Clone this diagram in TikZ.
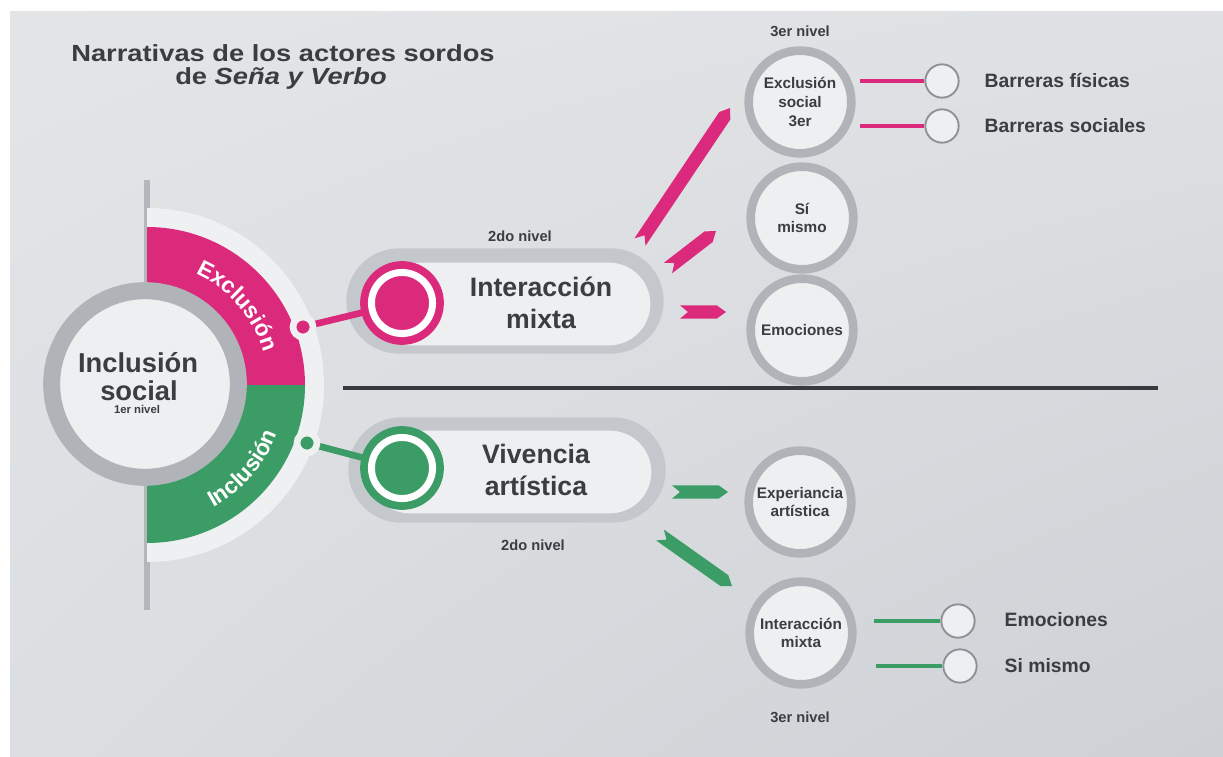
\documentclass[tikz,border=0pt]{standalone}
\usepackage{fontspec}
\setmainfont{Liberation Sans}
\usetikzlibrary{calc,shapes.misc,decorations.text,shadings}
\definecolor{pinkc}{HTML}{DB2A7B}
\definecolor{greenc}{HTML}{3C9C66}
\definecolor{inkc}{HTML}{3A3D41}
\definecolor{facec}{HTML}{EDEFF1}
\definecolor{ringc}{HTML}{B0B4B9}
\definecolor{shellc}{HTML}{C4C8CD}
\definecolor{haloc}{HTML}{EEF0F2}
\definecolor{barc}{HTML}{B3B6BB}
\definecolor{rulec}{HTML}{36393E}

\tikzset{
  lvlone/.style={circle, fill=facec, draw=ringc, line width=12.75pt, minimum size=140pt, inner sep=0pt},
  lvlonetext/.style={anchor=base, font=\fontsize{20.5}{23}\selectfont\bfseries, text=inkc, inner sep=0pt},
  lvlthree/.style={circle, fill=facec, draw=ringc, line width=6.5pt, minimum size=77pt, inner sep=0pt,
    align=center, font=\fontsize{11.5}{14}\selectfont\bfseries, text=inkc},
  leaf/.style={circle, fill=facec, draw=ringc!80!black, line width=1.4pt, minimum size=25pt, inner sep=0pt},
  leaflabel/.style={anchor=west, font=\fontsize{14.5}{17}\selectfont\bfseries, text=inkc},
  nivel/.style={font=\fontsize{11}{13}\selectfont\bfseries, text=inkc},
  titletext/.style={anchor=base, font=\fontsize{17.5}{20}\selectfont\bfseries, text=inkc, inner sep=0pt},
  hub/.style={circle, fill=#1, draw=white, line width=5.25pt, minimum size=45.8pt, inner sep=0pt,
    preaction={draw=#1, line width=17pt}},
  knob/.style={circle, fill=#1, draw=haloc, line width=5pt, minimum size=15pt, inner sep=0pt},
  link/.style={#1, line width=5pt},
  twig/.style={#1, line width=2.6pt},
  shell/.style={rounded rectangle, fill=shellc, minimum width=238pt, minimum height=79pt, inner sep=0pt},
  face/.style={rounded rectangle, fill=facec, minimum width=212pt, minimum height=62pt, inner sep=0pt},
  pilltext/.style={align=center, font=\fontsize{20}{24}\selectfont\bfseries, text=inkc},
  arctext/.style={decorate, decoration={text along path, text align=center,
    text={|\fontsize{17}{20}\selectfont\bfseries\color{white}|#1}}},
}

% tail, head, colour
\newcommand{\ribbon}[3]{%
  \coordinate (rb-s) at ($(#2)!7pt!(#1)$);
  \fill[#3] ($(#1)!5pt!90:(#2)$) -- ($(rb-s)!5pt!90:(#2)$) -- (#2)
    -- ($(rb-s)!5pt!-90:(#2)$) -- ($(#1)!5pt!-90:(#2)$) -- ($(#1)!6pt!(#2)$) -- cycle;
}

\begin{document}
\begin{tikzpicture}[x=0.75pt, y=0.75pt]
\useasboundingbox (0,0) rectangle (1223,-756);
% background
\fill[white] (0,0) rectangle (1223,-756);
\shade[upper left=haloc!90!gray, upper right=shellc!55!white, lower left=shellc!60!white, lower right=shellc!85!white]
  (10,-12) rectangle (1223,-756);

% title
\node[titletext] (title) at (283,-62) {\scalebox{1.17}[1]{Narrativas de los actores sordos}};
\node[titletext] (title-b) at (281,-85) {\scalebox{1.17}[1]{de \textit{Seña y Verbo}}};

% first level
\fill[barc] (144,-180) rectangle (150,-610);
\fill[haloc] (147,-208) arc[start angle=90, end angle=-90, radius=177] -- cycle;
\fill[pinkc] (147,-385) -- (147,-227) arc[start angle=90, end angle=0, radius=158] -- cycle;
\fill[greenc] (147,-385) -- (305,-385) arc[start angle=0, end angle=-90, radius=158] -- cycle;
\path[arctext=Exclusión] (147,-385) ++(86:121) arc[start angle=86, end angle=-4, radius=121];
\path[arctext=Inclusión] (147,-385) ++(-86:139) arc[start angle=-86, end angle=4, radius=139];
\node[lvlone] (lvl1) at (145,-384) {};
\node[lvlonetext] (lvl1-a) at (138,-372) {Inclusión};
\node[lvlonetext] (lvl1-b) at (139,-400) {social};
\node[lvlonetext, font=\fontsize{8.5}{10}\selectfont\bfseries] (lvl1-c) at (137,-413) {1er nivel};

% second level
\coordinate (exdot) at (303,-327);
\coordinate (indot) at (307,-443);
\coordinate (mixta-hub) at (402,-303);
\coordinate (viv-hub) at (402,-468);
\node[shell] (mixta-shell) at (505,-301) {};
\node[face] (mixta-face) at (509,-304) {};
\node[shell] (viv-shell) at (507,-470) {};
\node[face] (viv-face) at (510,-472) {};
\draw[link=pinkc] (exdot) -- (mixta-hub);
\draw[link=greenc] (indot) -- (viv-hub);
\node[knob=pinkc] at (exdot) {};
\node[knob=greenc] at (indot) {};
\node[hub=pinkc] at (mixta-hub) {};
\node[hub=greenc] at (viv-hub) {};
\node[pilltext] (mixta) at (541,-303) {Interacción\\mixta};
\node[pilltext] (viv) at (536,-470) {Vivencia\\artística};
\node[nivel] (mixta-lvl) at (520,-236) {2do nivel};
\node[nivel] (viv-lvl) at (533,-545) {2do nivel};

\draw[rulec, line width=2.4pt] (343,-388) -- (1158,-388);

% third level
\node[lvlthree] (ex3) at (800,-102) {Exclusión\\social\\3er};
\node[lvlthree] (simismo) at (802,-218) {Sí\\mismo};
\node[lvlthree] (emo) at (802,-330) {Emociones};
\node[lvlthree] (exp) at (800,-502) {Experiancia\\artística};
\node[lvlthree] (imx) at (801,-633) {Interacción\\mixta};
\node[nivel] (ex3-lvl) at (800,-31) {3er nivel};
\node[nivel] (imx-lvl) at (800,-717) {3er nivel};

\coordinate (r1a) at (640,-242); \coordinate (r1b) at (730,-108);
\coordinate (r2a) at (668,-268); \coordinate (r2b) at (716,-231);
\coordinate (r3a) at (680,-312); \coordinate (r3b) at (726,-312);
\coordinate (g1a) at (672,-492); \coordinate (g1b) at (728,-492);
\coordinate (g2a) at (660,-535); \coordinate (g2b) at (732,-586);
\ribbon{r1a}{r1b}{pinkc}
\ribbon{r2a}{r2b}{pinkc}
\ribbon{r3a}{r3b}{pinkc}
\ribbon{g1a}{g1b}{greenc}
\ribbon{g2a}{g2b}{greenc}

% leaves
\node[leaf] (bf) at (942,-81) {};
\node[leaf] (bs) at (942,-126) {};
\node[leaf] (ge) at (958,-621) {};
\node[leaf] (gs) at (960,-666) {};
\draw[twig=pinkc] (bf.west) -- ++(-64,0);
\draw[twig=pinkc] (bs.west) -- ++(-64,0);
\draw[twig=greenc] (ge.west) -- ++(-66,0);
\draw[twig=greenc] (gs.west) -- ++(-66,0);
\node[leaflabel] (bf-text) at (980,-81) {Barreras físicas};
\node[leaflabel] (bs-text) at (980,-126) {Barreras sociales};
\node[leaflabel] (ge-text) at (1000,-620) {Emociones};
\node[leaflabel] (gs-text) at (1000,-666) {Si mismo};
\end{tikzpicture}
\end{document}
